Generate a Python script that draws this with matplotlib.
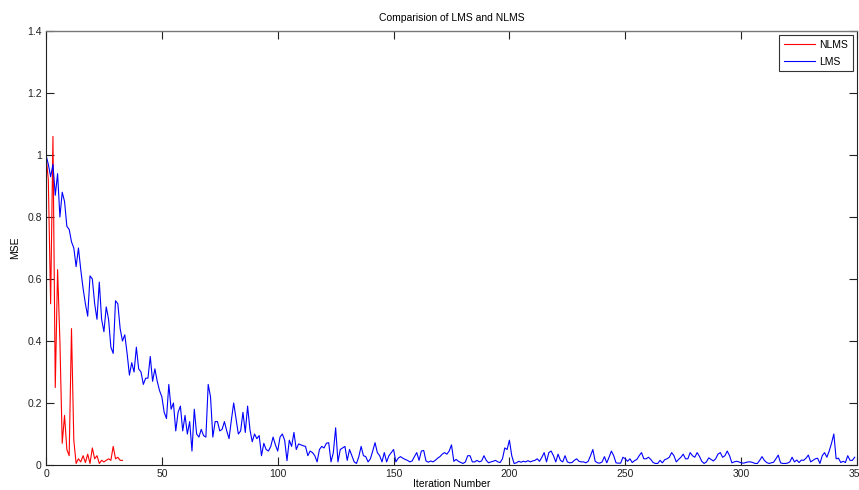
import matplotlib
matplotlib.use('Agg')
import matplotlib.pyplot as plt
import numpy as np

plt.rcParams['font.family'] = ['Liberation Sans', 'DejaVu Sans']

# NLMS error curve (converges within ~35 iterations)
nlms_mse = [1.00, 0.92, 0.52, 1.06, 0.25, 0.63, 0.40, 0.07, 0.16, 0.05,
            0.03, 0.44, 0.08, 0.005, 0.02, 0.01, 0.03, 0.008, 0.035, 0.005,
            0.055, 0.02, 0.03, 0.005, 0.015, 0.01, 0.015, 0.02, 0.015, 0.06,
            0.02, 0.025, 0.015, 0.015]

# LMS error curve, 350 iterations
lms_mse = [
    1.00, 0.97, 0.93, 0.97, 0.87, 0.94, 0.80, 0.88, 0.85, 0.77,
    0.76, 0.72, 0.70, 0.64, 0.70, 0.63, 0.57, 0.52, 0.48, 0.61,
    0.60, 0.52, 0.47, 0.59, 0.47, 0.43, 0.51, 0.47, 0.38, 0.36,
    0.53, 0.52, 0.44, 0.40, 0.42, 0.36, 0.29, 0.33, 0.30, 0.38,
    0.31, 0.30, 0.26, 0.28, 0.28, 0.35, 0.27, 0.31, 0.27, 0.24,
    0.22, 0.17, 0.15, 0.26, 0.18, 0.20, 0.11, 0.17, 0.19, 0.11,
    0.16, 0.10, 0.14, 0.045, 0.18, 0.10, 0.09, 0.115, 0.095, 0.09,
    0.26, 0.22, 0.09, 0.14, 0.14, 0.11, 0.115, 0.14, 0.11, 0.085,
    0.145, 0.20, 0.15, 0.10, 0.11, 0.17, 0.105, 0.19, 0.115, 0.075,
    0.10, 0.085, 0.095, 0.03, 0.07, 0.05, 0.045, 0.06, 0.09, 0.065,
    0.045, 0.09, 0.10, 0.08, 0.014, 0.08, 0.06, 0.105, 0.05, 0.068,
    0.065, 0.062, 0.06, 0.03, 0.045, 0.04, 0.03, 0.01, 0.05, 0.06,
    0.055, 0.07, 0.072, 0.01, 0.04, 0.12, 0.01, 0.05, 0.055, 0.06,
    0.015, 0.05, 0.03, 0.01, 0.005, 0.027, 0.06, 0.03, 0.027, 0.01,
    0.02, 0.045, 0.072, 0.04, 0.03, 0.01, 0.04, 0.01, 0.03, 0.04,
    0.05, 0.01, 0.022, 0.027, 0.022, 0.018, 0.015, 0.01, 0.013, 0.027,
    0.04, 0.015, 0.045, 0.047, 0.013, 0.009, 0.013, 0.01, 0.015, 0.022,
    0.027, 0.035, 0.04, 0.035, 0.045, 0.065, 0.012, 0.018, 0.012, 0.008,
    0.005, 0.01, 0.03, 0.03, 0.01, 0.01, 0.015, 0.01, 0.013, 0.03,
    0.015, 0.007, 0.01, 0.012, 0.015, 0.01, 0.008, 0.02, 0.055, 0.05,
    0.08, 0.03, 0.005, 0.007, 0.012, 0.009, 0.012, 0.01, 0.014, 0.01,
    0.013, 0.015, 0.02, 0.012, 0.025, 0.04, 0.01, 0.04, 0.045, 0.03,
    0.01, 0.035, 0.015, 0.01, 0.03, 0.01, 0.007, 0.008, 0.015, 0.02,
    0.012, 0.01, 0.01, 0.007, 0.012, 0.03, 0.05, 0.012, 0.007, 0.006,
    0.01, 0.027, 0.007, 0.025, 0.045, 0.03, 0.007, 0.006, 0.006, 0.025,
    0.02, 0.012, 0.02, 0.008, 0.014, 0.018, 0.03, 0.04, 0.02, 0.02,
    0.025, 0.018, 0.008, 0.005, 0.005, 0.015, 0.007, 0.017, 0.02, 0.025,
    0.04, 0.03, 0.01, 0.018, 0.025, 0.035, 0.02, 0.02, 0.04, 0.03,
    0.025, 0.04, 0.028, 0.012, 0.005, 0.01, 0.023, 0.018, 0.013, 0.02,
    0.035, 0.04, 0.025, 0.03, 0.045, 0.03, 0.007, 0.01, 0.012, 0.01,
    0.007, 0.006, 0.008, 0.01, 0.01, 0.008, 0.005, 0.005, 0.015, 0.027,
    0.015, 0.008, 0.005, 0.007, 0.009, 0.02, 0.032, 0.007, 0.005, 0.005,
    0.006, 0.01, 0.025, 0.01, 0.016, 0.008, 0.016, 0.015, 0.022, 0.032,
    0.01, 0.015, 0.02, 0.022, 0.005, 0.03, 0.04, 0.025, 0.045, 0.07,
    0.10, 0.02, 0.022, 0.008, 0.012, 0.008, 0.03, 0.015, 0.015, 0.025,
]

x_ticks = [0, 50, 100, 150, 200, 250, 300, 350]
y_ticks = [0, 0.2, 0.4, 0.6, 0.8, 1.0, 1.2, 1.4]
y_tick_labels = ['0', '0.2', '0.4', '0.6', '0.8', '1', '1.2', '1.4']

fig = plt.figure(figsize=(8.59, 4.90), dpi=100)
ax = fig.add_axes([46 / 859, 25 / 490, 811 / 859, 434 / 490])

ax.plot(np.arange(len(nlms_mse)), nlms_mse, color='red', lw=0.8, label='NLMS')
ax.plot(np.arange(len(lms_mse)), lms_mse, color='blue', lw=0.8, label='LMS')

ax.set_xlim(0, 350)
ax.set_ylim(0, 1.4)
ax.set_xticks(x_ticks)
ax.set_yticks(y_ticks)
ax.set_yticklabels(y_tick_labels)
ax.tick_params(direction='in', length=5.5, width=0.8, labelsize=7.5,
               top=True, right=True, pad=3, colors='#222222')
for side in ['left', 'bottom', 'right']:
    ax.spines[side].set_color('#222222')
    ax.spines[side].set_linewidth(0.8)
ax.spines['top'].set_color('#777777')
ax.spines['top'].set_linewidth(1.0)

ax.set_title('Comparision of LMS and NLMS', fontsize=7.5, pad=7)
ax.set_xlabel('Iteration Number', fontsize=7.5, labelpad=0)
ax.set_ylabel('MSE', fontsize=7.5, labelpad=5)

leg = ax.legend(loc='upper right', fontsize=7.5, fancybox=False, framealpha=1,
                edgecolor='#333333', handlelength=3.0, borderaxespad=0.4,
                borderpad=0.45, labelspacing=0.65, handletextpad=0.4)
leg.get_frame().set_linewidth(0.8)

fig.savefig('out.png', dpi=100)
